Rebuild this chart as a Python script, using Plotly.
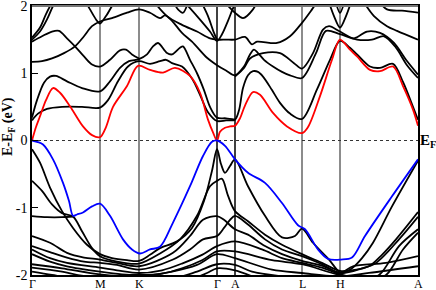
import plotly.graph_objects as go

# High-symmetry points along the path
kpt_pos = [0, 68, 107, 185, 203, 270, 308, 386]
kpt_labels = ["Γ", "M", "K", "Γ", "A", "L", "H", "A"]
kpt_line_colors = ["black", "#666666", "#666666", "black", "black", "#666666", "#666666", "black"]
ytick_vals = [-2, -1, 0, 1, 2]
ytick_text = ["-2", "-1", "0", "1", "2"]

# Lowest conduction band (red)
red_k = [0, 4, 8, 14, 21, 28, 38, 51, 60, 68, 74, 81, 95, 106, 118, 131, 143, 158, 168, 176, 181, 185,
         188, 193, 198, 203, 208, 213, 221, 228, 241, 255, 270, 276, 288, 300, 308, 318, 325, 338, 348,
         361, 371, 381, 386]
red_e = [0, 0.2, 0.36, 0.6, 0.78, 0.71, 0.51, 0.21, 0.08, 0.05, 0.2, 0.5, 0.81, 1.11, 1.05, 1.01, 1.08,
         0.96, 0.71, 0.31, 0.12, 0.0, 0.13, 0.19, 0.21, 0.22, 0.33, 0.52, 0.72, 0.68, 0.41, 0.21, 0.11,
         0.2, 0.66, 1.2, 1.5, 1.35, 1.25, 1.05, 1.03, 1.1, 0.81, 0.46, 0.22]

# Highest valence band (blue)
blue_k = [0, 5, 11, 21, 31, 37, 41, 45, 51, 60, 68, 78, 91, 100, 108, 118, 128, 141, 158, 171, 180, 185,
          193, 203, 216, 233, 250, 266, 273, 286, 296, 309, 320, 333, 360, 386]
blue_e = [0, -0.02, -0.06, -0.28, -0.63, -0.9, -1.12, -1.1, -1.07, -0.98, -0.94, -1.12, -1.47, -1.62,
          -1.68, -1.62, -1.58, -1.22, -0.68, -0.23, -0.02, 0, -0.08, -0.28, -0.48, -0.63, -0.93, -1.26,
          -1.32, -1.62, -1.76, -1.77, -1.74, -1.42, -0.83, -0.28]

# Other conduction bands (black)
cb1_k = [0, 6, 15, 30, 50, 68, 76, 86, 96, 107, 118, 128, 134, 140, 150, 160, 168, 176, 185, 194, 203,
         207, 211, 216, 221, 226, 231, 240, 248, 258, 270, 285, 298, 308, 318, 325, 338, 348, 361, 371, 381, 386]
cb1_e = [0.30, 0.40, 0.47, 0.50, 0.50, 0.49, 0.6, 0.88, 1.1, 1.18, 1.14, 1.18, 1.2, 1.15, 1.1, 0.92,
         0.68, 0.42, 0.29, 0.30, 0.31, 0.45, 0.78, 0.97, 1.03, 1.02, 0.95, 0.75, 0.56, 0.40, 0.32, 0.76, 1.2,
         1.48, 1.38, 1.28, 1.1, 1.08, 1.14, 0.87, 0.5, 0.31]
cb2_k = [0, 5, 12, 18, 24, 35, 50, 68, 78, 88, 97, 107, 115, 121, 126, 135, 140, 148, 151, 158, 165,
         172, 178, 185, 194, 203]
cb2_e = [0.34, 0.6, 0.86, 0.95, 0.96, 0.88, 0.78, 0.73, 0.88, 1.08, 1.18, 1.21, 1.28, 1.4, 1.45, 1.3,
         1.28, 1.38, 1.4, 1.2, 1.0, 0.75, 0.5, 0.34, 0.33, 0.31]
cb3_k = [0, 10, 20, 32, 43, 52, 60, 68, 80, 95, 107, 118, 128, 133, 140, 150, 160, 175, 185, 194, 203, 212,
         218, 231, 248, 262, 270, 281, 291, 297, 308, 322, 335, 348, 362, 374, 386]
cb3_e = [1.17, 1.18, 1.22, 1.3, 1.4, 1.55, 1.7, 1.77, 1.82, 1.9, 1.95, 1.9, 1.82, 1.86, 1.78, 1.6, 1.47,
         1.23, 1.12, 1.04, 0.97, 1.08, 1.22, 1.3, 1.3, 1.15, 1.07, 1.3, 1.65, 1.7, 1.62, 1.52, 1.62, 1.6,
         1.45, 1.2, 0.98]
cb4_k = [0, 10, 20, 27, 35, 43, 52, 60, 68, 78, 88, 94, 100, 107]
cb4_e = [1.47, 1.55, 1.62, 1.63, 1.52, 1.4, 1.25, 1.13, 1.1, 1.2, 1.34, 1.35, 1.28, 1.22]
cb5_k = [0, 8, 15, 21, 25]
cb5_e = [1.5, 1.62, 1.8, 2.0, 2.1]
cb6_k = [0, 8, 14, 20, 23]
cb6_e = [1.53, 1.68, 1.88, 2.05, 2.12]
cb7_k = [52, 58, 64, 68, 74, 80, 84]
cb7_e = [2.1, 1.95, 1.8, 1.74, 1.85, 2.0, 2.1]
cba_k = [203, 212, 218, 222, 226, 232, 241, 250, 258, 270, 284, 294, 308, 325, 340, 352, 364, 375, 386]
cba_e = [0.95, 1.1, 1.28, 1.35, 1.3, 1.2, 1.1, 1.02, 0.97, 0.93, 1.3, 1.63, 1.58, 1.5, 1.5, 1.55, 1.38, 1.12, 0.93]
cbt1_k = [120, 135, 150, 165, 178, 185, 194, 203, 213, 220, 225, 245, 258, 270, 280, 287]
cbt1_e = [2.1, 1.85, 1.72, 1.62, 1.52, 1.5, 1.5, 1.5, 1.54, 1.43, 1.47, 1.45, 1.55, 1.75, 1.95, 2.1]
cbt2_k = [150, 165, 178, 185, 190, 196, 202, 206]
cbt2_e = [2.1, 1.85, 1.62, 1.48, 1.58, 1.78, 2.0, 2.1]
cbt3_k = [168, 176, 182, 185]
cbt3_e = [2.1, 1.85, 1.6, 1.5]
cbv_k = [140, 146, 151, 157]
cbv_e = [2.1, 1.95, 1.9, 2.1]
cbat_k = [190, 203, 211, 221, 226]
cbat_e = [2.1, 1.9, 1.82, 1.95, 2.1]
cbh1_k = [296, 302, 308, 314, 320]
cbh1_e = [2.1, 1.85, 1.68, 1.85, 2.1]
cbh2_k = [303, 308, 313]
cbh2_e = [2.1, 1.9, 2.1]
cbh3_k = [330, 342, 355, 365, 386]
cbh3_e = [2.1, 1.85, 1.7, 1.63, 1.5]
cbh4_k = [345, 355, 370, 386]
cbh4_e = [2.1, 1.95, 1.93, 1.9]

# Other valence bands (black)
v1_k = [0, 8, 18, 30, 41, 55, 68, 80, 95, 107, 118, 128, 145, 160, 172, 180, 185, 189, 193, 198, 203, 216,
        233, 250, 263, 270, 281, 297, 309, 320, 330, 341, 360, 386]
v1_e = [-0.13, -0.33, -0.7, -1.05, -1.3, -1.55, -1.69, -1.75, -1.78, -1.79, -1.7, -1.6, -1.5, -1.3, -0.9,
        -0.45, -0.13, -0.35, -0.48, -0.38, -0.28, -0.68, -1.12, -1.44, -1.42, -1.31, -1.52, -1.77, -1.97,
        -1.9, -1.75, -1.52, -0.98, -0.3]
v2_k = [0, 10, 20, 30, 41, 50, 60, 68, 85, 107, 128, 148, 165, 178, 185, 190, 196, 203, 216, 233, 250, 270,
        290, 308, 320, 337, 350, 364, 386]
v2_e = [-0.6, -0.75, -0.95, -1.08, -1.13, -1.35, -1.6, -1.72, -1.8, -1.83, -1.68, -1.47, -1.12, -0.68, -0.6,
        -0.57, -0.82, -1.05, -1.2, -1.4, -1.55, -1.69, -1.82, -1.94, -1.93, -1.87, -1.7, -1.47, -1.065]
v3_k = [0, 15, 30, 41]
v3_e = [-1.125, -1.14, -1.14, -1.13]
v4_k = [0, 18, 35, 52, 68, 85, 107, 141, 158, 171, 185, 192, 203, 216, 233, 250, 270, 290, 309, 330, 344,
        367, 386]
v4_e = [-1.42, -1.52, -1.67, -1.74, -1.77, -1.82, -1.87, -1.67, -1.42, -1.18, -1.125, -1.18, -1.32, -1.4,
        -1.57, -1.69, -1.79, -1.86, -1.97, -1.9, -1.82, -1.47, -1.135]
v5_k = [0, 18, 35, 52, 68, 85, 107, 141, 158, 171, 185, 192, 198, 203, 216, 233, 250, 270, 290, 308, 321,
        354, 386]
v5_e = [-1.57, -1.66, -1.74, -1.8, -1.82, -1.85, -1.92, -1.77, -1.62, -1.47, -1.42, -1.3, -1.18, -1.12,
        -1.25, -1.47, -1.62, -1.72, -1.84, -1.97, -1.87, -1.82, -1.72]
v6_k = [0, 18, 35, 68, 85, 107, 130, 150, 170, 185, 203, 230, 250, 270, 290, 308, 330, 347, 367, 386]
v6_e = [-1.62, -1.75, -1.82, -1.89, -1.93, -1.97, -1.93, -1.83, -1.7, -1.57, -1.5, -1.62, -1.75, -1.82,
        -1.89, -1.99, -2.05, -2.0, -1.57, -1.32]
v7_k = [0, 18, 35, 68, 90, 107, 130, 150, 170, 185, 203, 240, 270, 308, 338, 354, 371, 386]
v7_e = [-1.69, -1.8, -1.87, -1.95, -1.99, -2.0, -1.98, -1.9, -1.78, -1.65, -1.65, -1.78, -1.84, -2.0,
        -2.05, -2.0, -1.62, -1.37]
v8_k = [0, 30, 68, 107, 140, 165, 185, 203, 240, 270, 308, 337, 386]
v8_e = [-1.84, -1.9, -1.99, -2.02, -1.95, -1.85, -1.69, -1.75, -1.92, -1.97, -2.02, -1.97, -1.87]
v9_k = [0, 30, 55, 140, 165, 185, 203, 220, 250]
v9_e = [-1.89, -1.95, -2.02, -2.05, -1.95, -1.84, -1.85, -1.95, -2.02]
v10_k = [0, 20, 45, 160, 175, 185, 203, 220]
v10_e = [-1.95, -2.0, -2.05, -2.05, -1.97, -1.9, -1.93, -2.02]

black_bands = [
    (cb1_k, cb1_e), (cb2_k, cb2_e), (cb3_k, cb3_e), (cb4_k, cb4_e), (cb5_k, cb5_e), (cb6_k, cb6_e),
    (cb7_k, cb7_e), (cba_k, cba_e), (cbt1_k, cbt1_e), (cbt2_k, cbt2_e), (cbt3_k, cbt3_e),
    (cbv_k, cbv_e), (cbat_k, cbat_e), (cbh1_k, cbh1_e), (cbh2_k, cbh2_e), (cbh3_k, cbh3_e), (cbh4_k, cbh4_e),
    (v1_k, v1_e), (v2_k, v2_e), (v3_k, v3_e), (v4_k, v4_e), (v5_k, v5_e), (v6_k, v6_e), (v7_k, v7_e),
    (v8_k, v8_e), (v9_k, v9_e), (v10_k, v10_e),
]

SERIF = "Liberation Serif, Times New Roman, serif"
fig = go.Figure()

for k, e in black_bands:
    fig.add_trace(go.Scatter(x=k, y=e, mode="lines", showlegend=False, hoverinfo="skip",
                             line=dict(color="black", width=1.8, shape="spline", smoothing=0.9)))
fig.add_trace(go.Scatter(x=red_k, y=red_e, mode="lines", showlegend=False, hoverinfo="skip",
                         line=dict(color="#ff0000", width=1.8, shape="spline", smoothing=0.9)))
fig.add_trace(go.Scatter(x=blue_k, y=blue_e, mode="lines", showlegend=False, hoverinfo="skip",
                         line=dict(color="#0000ff", width=1.8, shape="spline", smoothing=0.9)))

shapes = []
for pos, col in zip(kpt_pos[1:-1], kpt_line_colors[1:-1]):
    shapes.append(dict(type="line", xref="x", yref="paper", x0=pos, x1=pos, y0=0, y1=1,
                       line=dict(color=col, width=1.5), layer="below"))
shapes.append(dict(type="line", xref="paper", yref="y", x0=0, x1=1, y0=0, y1=0,
                   line=dict(color="#333333", width=1, dash="dot"), layer="below"))
shapes.append(dict(type="line", xref="paper", yref="paper", x0=0, x1=1, y0=1, y1=1,
                   line=dict(color="#777777", width=2), layer="above"))

annotations = []
for pos, lab in zip(kpt_pos, kpt_labels):
    annotations.append(dict(x=pos, y=0, xref="x", yref="paper", text=lab, showarrow=False,
                            xanchor="center", yanchor="top", yshift=0,
                            font=dict(family=SERIF, size=12, color="black")))
annotations.append(dict(x=0, xref="paper", y=0.2, yref="y", text="<b>E-E<sub>F</sub> (eV)</b>",
                        textangle=-90, showarrow=False, xanchor="center", yanchor="middle", xshift=-24,
                        font=dict(family=SERIF, size=14, color="black")))
annotations.append(dict(x=1, xref="paper", y=0, yref="y", text="<b>E<sub>F</sub></b>", showarrow=False,
                        xanchor="left", yanchor="middle", xshift=0,
                        font=dict(family=SERIF, size=15, color="black")))

fig.update_layout(
    width=436, height=290,
    margin=dict(l=32, r=18, t=6, b=15, autoexpand=False),
    paper_bgcolor="white", plot_bgcolor="white",
    shapes=shapes, annotations=annotations,
    xaxis=dict(range=[kpt_pos[0], kpt_pos[-1]], showgrid=False, zeroline=False, showticklabels=False,
               ticks="", showline=True, mirror=True, linecolor="black", linewidth=1.5, automargin=False),
    yaxis=dict(range=[-2, 2], tickvals=ytick_vals, ticktext=ytick_text, ticks="inside", ticklen=6,
               tickwidth=1, tickcolor="black", showgrid=False, zeroline=False, showline=True, mirror=True,
               linecolor="black", linewidth=1.5, automargin=False, ticklabeloverflow="allow",
               tickfont=dict(family=SERIF, size=14, color="black")),
)

fig.write_html("out.html", config={"displayModeBar": False},
               post_script="document.body.style.margin='0';document.body.style.padding='0';")
